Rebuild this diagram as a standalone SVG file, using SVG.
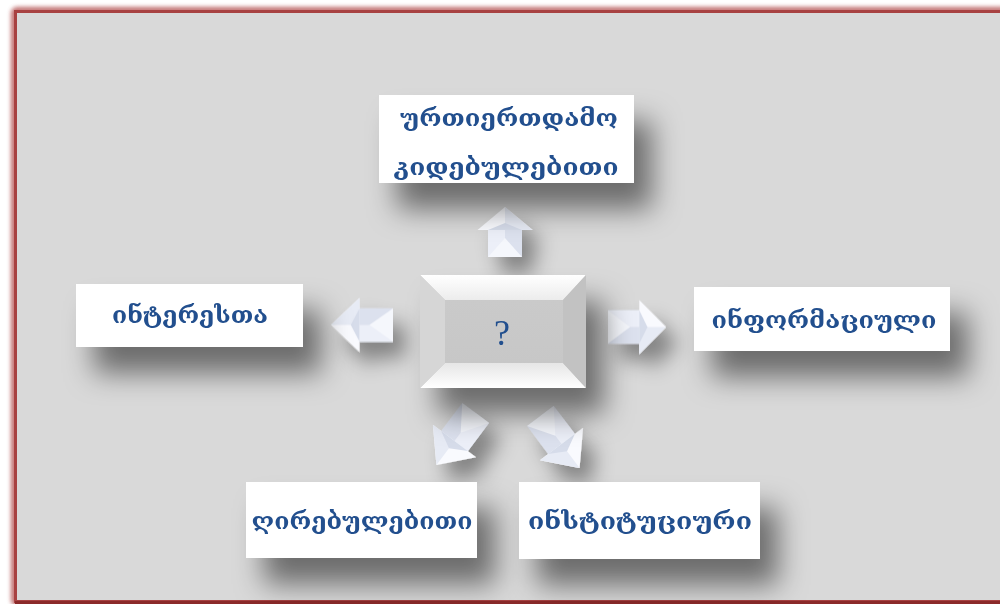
<svg xmlns="http://www.w3.org/2000/svg" width="1000" height="604" viewBox="0 0 1000 604">
  <defs>
    <filter id="frameGlow" x="-5%" y="-5%" width="110%" height="110%">
      <feGaussianBlur stdDeviation="2"/>
    </filter>
    <filter id="boxShadow" x="-40%" y="-50%" width="190%" height="260%">
      <feDropShadow dx="18" dy="26" stdDeviation="14" flood-color="#000" flood-opacity="0.5"/>
    </filter>
    <filter id="arrowShadow" x="-60%" y="-60%" width="220%" height="220%">
      <feDropShadow dx="12" dy="16" stdDeviation="10" flood-color="#000" flood-opacity="0.4"/>
    </filter>
    <linearGradient id="topBevel" x1="0" y1="0" x2="0" y2="1">
      <stop offset="0" stop-color="#ffffff"/>
      <stop offset="1" stop-color="#ececec"/>
    </linearGradient>
    <linearGradient id="botBevel" x1="0" y1="0" x2="0" y2="1">
      <stop offset="0" stop-color="#e6e6e6"/>
      <stop offset="1" stop-color="#ffffff"/>
    </linearGradient>
    <linearGradient id="face" x1="0" y1="0" x2="0" y2="1">
      <stop offset="0" stop-color="#cbcbcb"/>
      <stop offset="1" stop-color="#c6c6c6"/>
    </linearGradient>
    <g id="arrow">
      <rect x="-25" y="-17" width="28" height="34" fill="#dce1ee"/>
      <polygon points="-25,-17 -25,0 3,0 3,-17" fill="#eceff8"/>
      <polygon points="-25,-17 -6,0 -25,17" fill="#f5f7fc"/>
      <polygon points="2,-27.5 25,0 2,27.5" fill="#f9fafe"/>
      <polygon points="2,0 25,0 2,27.5" fill="#e7ebf5"/>
      <polygon points="2,-17 9,0 2,17" fill="#d6dcea"/>
    </g>
    <style>
      .box { fill: #ffffff; filter: url(#boxShadow); }
      .lbl { font-family: "DejaVu Serif", "DejaVu Sans", "Noto Sans", serif; font-size: 23px; font-weight: bold; fill: #224f8e; text-anchor: middle; }
    </style>
  </defs>

  <rect x="0" y="0" width="1000" height="604" fill="#ffffff"/>
  <!-- frame -->
  <g id="frame">
    <rect x="14" y="10" width="1000" height="593" rx="3" fill="none" stroke="#b04a4a" stroke-width="6" filter="url(#frameGlow)" opacity="0.8"/>
    <rect x="15.5" y="11.5" width="1000" height="590" fill="#d9d9d9" stroke="#a84242" stroke-width="3"/>
    <line x1="15" y1="602.5" x2="1000" y2="602.5" stroke="#8b2a2a" stroke-width="3"/>
  </g>

  <!-- connectors (arrows) -->
  <g id="connectors" filter="url(#arrowShadow)">
    <use href="#arrow" transform="translate(505,232) rotate(-90) scale(1,1)"/>
    <use href="#arrow" transform="translate(362,325) rotate(180) scale(1.24,0.98)"/>
    <use href="#arrow" transform="translate(637,327) scale(1.16,0.98)"/>
    <use href="#arrow" transform="translate(456,439) rotate(127) scale(1.3,0.98)"/>
    <use href="#arrow" transform="translate(560,442) rotate(53) scale(1.3,0.98)"/>
  </g>

  <!-- center node -->
  <g id="center" filter="url(#boxShadow)">
    <rect x="420" y="275" width="166" height="113" fill="url(#face)"/>
    <polygon points="420,275 586,275 563,300 445,300" fill="url(#topBevel)"/>
    <polygon points="420,388 586,388 563,363 445,363" fill="url(#botBevel)"/>
    <polygon points="420,275 445,300 445,363 420,388" fill="#d6d6d6"/>
    <polygon points="586,275 563,300 563,363 586,388" fill="#c2c2c2"/>
    <text x="502" y="345" font-family="Liberation Serif, serif" font-size="36" fill="#224f8e" text-anchor="middle">?</text>
  </g>

  <!-- top node -->
  <g id="node-top">
    <rect class="box" x="379" y="95" width="255" height="88"/>
    <text class="lbl" x="509" y="126" textLength="218" lengthAdjust="spacingAndGlyphs">ურთიერთდამო</text>
    <text class="lbl" x="506" y="175" textLength="225" lengthAdjust="spacingAndGlyphs">კიდებულებითი</text>
  </g>

  <!-- left node -->
  <g id="node-left">
    <rect class="box" x="76" y="284" width="227" height="63"/>
    <text class="lbl" x="190" y="323" textLength="156" lengthAdjust="spacingAndGlyphs">ინტერესთა</text>
  </g>

  <!-- right node -->
  <g id="node-right">
    <rect class="box" x="694" y="287" width="256" height="64"/>
    <text class="lbl" x="824" y="328" textLength="225" lengthAdjust="spacingAndGlyphs">ინფორმაციული</text>
  </g>

  <!-- bottom-left node -->
  <g id="node-bottom-left">
    <rect class="box" x="246" y="482" width="231" height="76"/>
    <text class="lbl" x="362" y="529" textLength="221" lengthAdjust="spacingAndGlyphs">ღირებულებითი</text>
  </g>

  <!-- bottom-right node -->
  <g id="node-bottom-right">
    <rect class="box" x="519" y="482" width="241" height="77"/>
    <text class="lbl" x="640" y="529" textLength="224" lengthAdjust="spacingAndGlyphs">ინსტიტუციური</text>
  </g>
</svg>
